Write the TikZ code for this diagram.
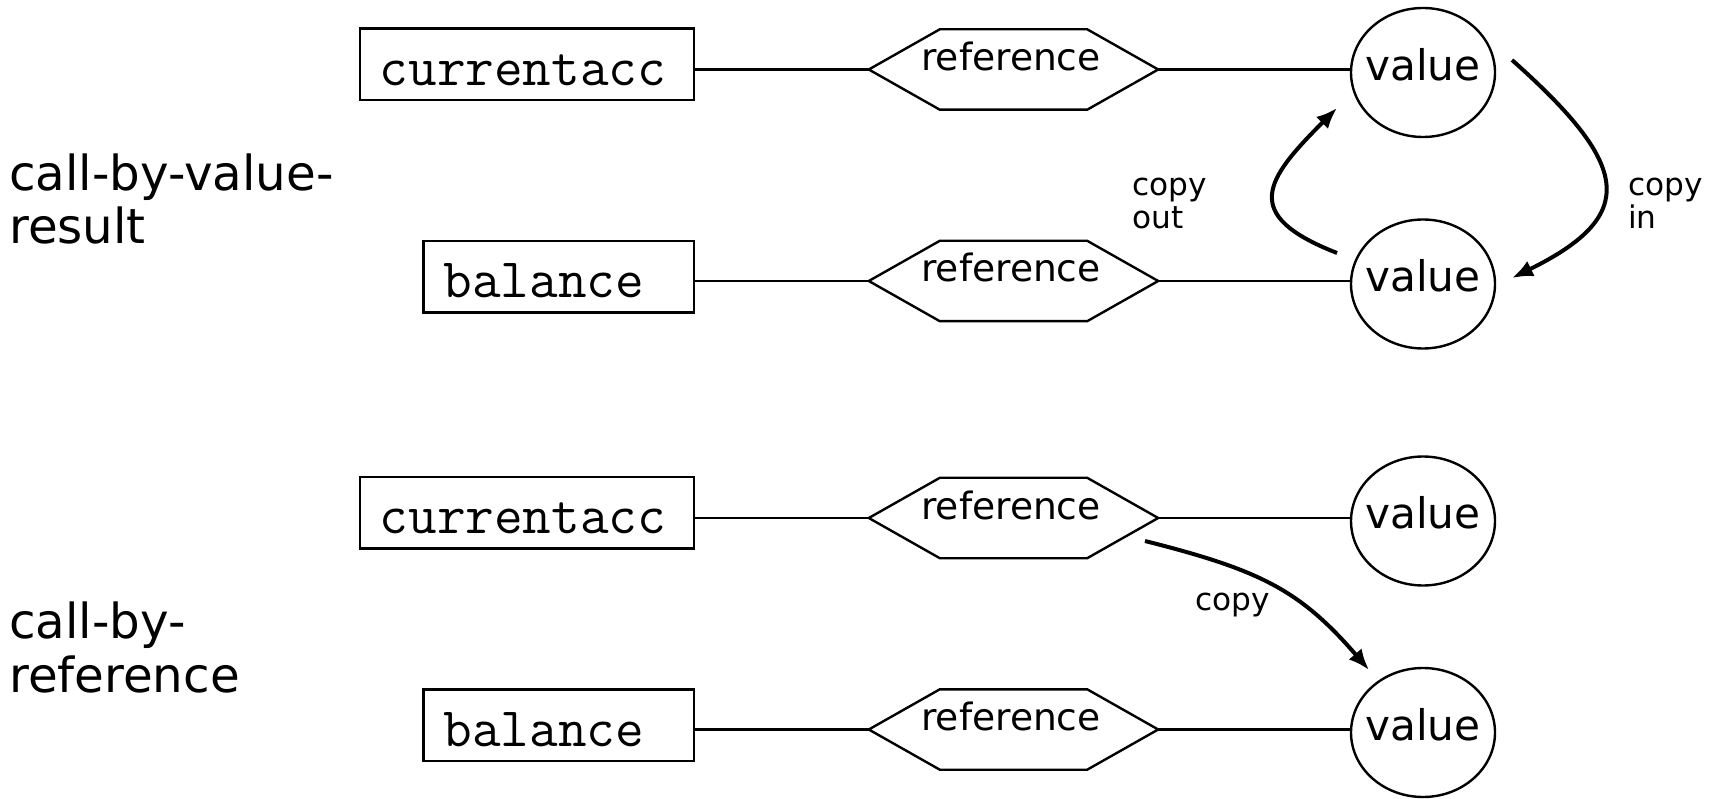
\documentclass[tikz,border=0pt]{standalone}
\usepackage{fontspec}
\setmainfont{DejaVu Sans}
\usetikzlibrary{shapes.geometric,arrows.meta}
\begin{document}
\begin{tikzpicture}[x=1pt,y=-1pt,
  link/.style={line width=2.4pt},
  varbox/.style={draw, line width=2.4pt, rectangle, inner xsep=20pt, inner ysep=0pt,
    minimum height=71.5pt, text height=56.85pt, text depth=14.65pt, align=left,
    font=\ttfamily\fontsize{55.6}{60}\selectfont},
  refnode/.style={rectangle, inner sep=0pt, minimum width=289pt, minimum height=80pt,
    text height=27.7pt, text depth=25.7pt, font=\fontsize{37.6}{40}\selectfont},
  valnode/.style={draw, line width=2.4pt, ellipse, inner sep=0pt, minimum width=144pt,
    minimum height=129pt, text height=31.5pt, text depth=15.5pt,
    font=\fontsize{42.2}{46}\selectfont},
  biglabel/.style={align=left, inner sep=0pt, font=\fontsize{48.3}{53.3}\selectfont},
  smalllabel/.style={align=left, inner sep=0pt, font=\fontsize{31.2}{33.3}\selectfont},
  flow/.style={line width=4pt, -{Latex[length=21pt,width=17pt]}}
]
\useasboundingbox (0,0) rectangle (1725,799);

% mode labels
\node[biglabel, anchor=north west] (mode1) at (9,153.5) {call-by-value-\\result};
\node[biglabel, anchor=north west] (mode2) at (9,602) {call-by-\\reference};

% variables
\node[varbox, text width=294.5pt] (b1) at (527,64.3) {currentacc};
\node[varbox, text width=230.7pt] (b2) at (558.9,276.7) {balance};
\node[varbox, text width=294.5pt] (b3) at (527,512.8) {currentacc};
\node[varbox, text width=230.7pt] (b4) at (558.9,725.2) {balance};

% references
\node[refnode] (r1) at (1013.5,69.5) {reference\kern5pt};
\node[refnode] (r2) at (1013.5,281) {reference\kern5pt};
\node[refnode] (r3) at (1013.5,518) {reference\kern5pt};
\node[refnode] (r4) at (1013.5,729.5) {reference\kern5pt};
\foreach \h in {r1,r2,r3,r4}
  \draw[link] (\h.west) -- ([xshift=71pt]\h.north west) -- ([xshift=-71pt]\h.north east)
    -- (\h.east) -- ([xshift=-71pt]\h.south east) -- ([xshift=71pt]\h.south west) -- cycle;

% values
\node[valnode] (e1) at (1423,72.5) {\makebox[0pt]{value}};
\node[valnode] (e2) at (1423,284) {\makebox[0pt]{value}};
\node[valnode] (e3) at (1423,521) {\makebox[0pt]{value}};
\node[valnode] (e4) at (1423,732.5) {\makebox[0pt]{value}};

% variable -- reference -- value
\foreach \b/\r/\e in {b1/r1/e1, b2/r2/e2, b3/r3/e3, b4/r4/e4} {
  \draw[link] (\r.west -| \b.east) -- (\r.west);
  \draw[link] (\r.east) -- (\r.east -| \e.west);
}

% copy in / copy out
\coordinate (cinA) at (1512,60);
\coordinate (cinB) at (1512,278);
\coordinate (coutA) at (1337,253);
\coordinate (coutB) at (1337,108);
\draw[flow] (cinA) .. controls (1630,165) and (1640,215) .. (cinB);
\draw[flow] (coutA) .. controls (1240,215) and (1265,180) .. (coutB);
\node[smalllabel, anchor=north west] (lout) at (1132,177.8) {copy\\out};
\node[smalllabel, anchor=north west] (lin) at (1628,177.8) {copy\\in};

% copy of the reference
\coordinate (cpA) at (1145,541);
\coordinate (cpB) at (1369,670);
\draw[flow] (cpA) .. controls (1260,570) and (1300,590) .. (cpB);
\node[smalllabel, anchor=base west] (lcp) at (1195,610) {copy};
\end{tikzpicture}
\end{document}
